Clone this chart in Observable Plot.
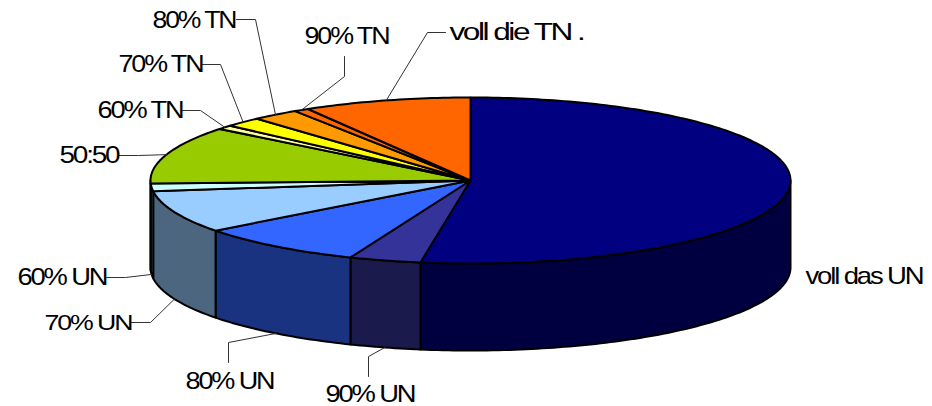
<!DOCTYPE html>
<html><head><meta charset="utf-8">
<style>html,body{margin:0;padding:0;background:#fff}svg{display:block}</style>
<script src="https://cdn.jsdelivr.net/npm/d3@7"></script>
<script src="https://cdn.jsdelivr.net/npm/@observablehq/plot@0.6"></script>
</head><body><div id="chart"></div>
<script>
// Data: share of answers, percent, clockwise from 12 o'clock
const categories = ["voll das UN","90% UN","80% UN","70% UN","60% UN","50:50","60% TN","70% TN","80% TN","90% TN","voll die TN ."];
const shares = [52.5,3.62,8.55,8.25,1.5,11.25,0.8,1.9,2.4,0.75,8.48];
const topColors = ["#000080","#333399","#3366FF","#99CCFF","#CCFFFF","#99CC00","#FFFF99","#FFFF00","#FF9900","#FF6600","#FF6600"];
const sideColors = ["#000040","#1A1A4D","#1A3380","#4D6680","#668080","#4D6600","#808050","#808000","#804D00","#803300","#803300"];

// Layout (pixels): pie geometry and label placement
const cx = 470, cy = 180, rx = 320, ry = 83, depth = 87;
const labelX = [805,325,185,44,17,59,97,118,152,304,449];
const labelY = [276,394,381,322,277,155,110,64,20,36,32];
const labelW = [117,89,88,87,89,59,85,84,83,84,134];
const elbowA = [null,[368,356],[228,342],[150,322],[125,277],[138,155],[200,110],[220,64],[255,19],[344,76],[427,32]];
const elbowB = [null,[368,376],[228,362],[131,322],[106,277],[118,155],[182,110],[202,64],[236,19],[344,56],[445,32]];

const total = d3.sum(shares);
const rad = d => d * Math.PI / 180;
const pt = (t, dz = 0) => ({x: cx + rx * Math.sin(rad(t)), y: cy - ry * Math.cos(rad(t)) + dz});
const arc = (a, b, dz = 0) => {
  const n = Math.max(1, Math.ceil(Math.abs(b - a)));
  return d3.range(n + 1).map(i => pt(a + (b - a) * i / n, dz));
};

let acc = 0;
const slices = shares.map((v, i) => {
  const a = acc * 360 / total; acc += v; const b = acc * 360 / total;
  return {i, a, b, mid: (a + b) / 2};
});

const marks = [];
// side walls: only the part of the rim facing the viewer (90 to 270 degrees)
for (const s of slices) {
  const a = Math.max(s.a, 90), b = Math.min(s.b, 270);
  if (b <= a) continue;
  const poly = [...arc(a, b), ...arc(b, a, depth)];
  poly.push(poly[0]);
  marks.push(Plot.line(poly, {x: "x", y: "y", fill: sideColors[s.i], stroke: "#000", strokeWidth: 2, strokeLinejoin: "round"}));
}
// top faces
for (const s of slices) {
  const poly = [{x: cx, y: cy}, ...arc(s.a, s.b), {x: cx, y: cy}];
  marks.push(Plot.line(poly, {x: "x", y: "y", fill: topColors[s.i], stroke: "#000", strokeWidth: 2, strokeLinejoin: "round"}));
}
// leader lines
for (const s of slices) {
  if (!elbowA[s.i]) continue;
  const front = s.mid > 90 && s.mid < 270;
  const anchor = pt(s.mid, front ? depth : 0);
  const path = [anchor, {x: elbowA[s.i][0], y: elbowA[s.i][1]}, {x: elbowB[s.i][0], y: elbowB[s.i][1]}];
  marks.push(Plot.line(path, {x: "x", y: "y", stroke: "#333", strokeWidth: 1}));
}
// labels
const labels = categories.map((c, i) => ({c, x: labelX[i], y: labelY[i]}));
marks.push(Plot.text(labels, {x: "x", y: "y", text: "c", textAnchor: "start", lineAnchor: "middle",
  fontSize: 23, fontFamily: "Liberation Sans, Arial, sans-serif", fill: "#000"}));

const plot = Plot.plot({
  width: 932, height: 406, margin: 0,
  x: {domain: [0, 932], range: [0, 932], axis: null},
  y: {domain: [0, 406], range: [0, 406], axis: null},
  style: {background: "#fff"},
  marks
});
document.getElementById("chart").append(plot);
// The reference type is wide but tightly set: stretch each label to its measured width
d3.select(plot).selectAll("text")
  .style("letter-spacing", "-1.8px")
  .each(function (d, i) {
    const k = labelW[i] / this.getComputedTextLength();
    this.setAttribute("transform", `${this.getAttribute("transform") || ""} scale(${k},1)`);
  });
</script></body></html>
